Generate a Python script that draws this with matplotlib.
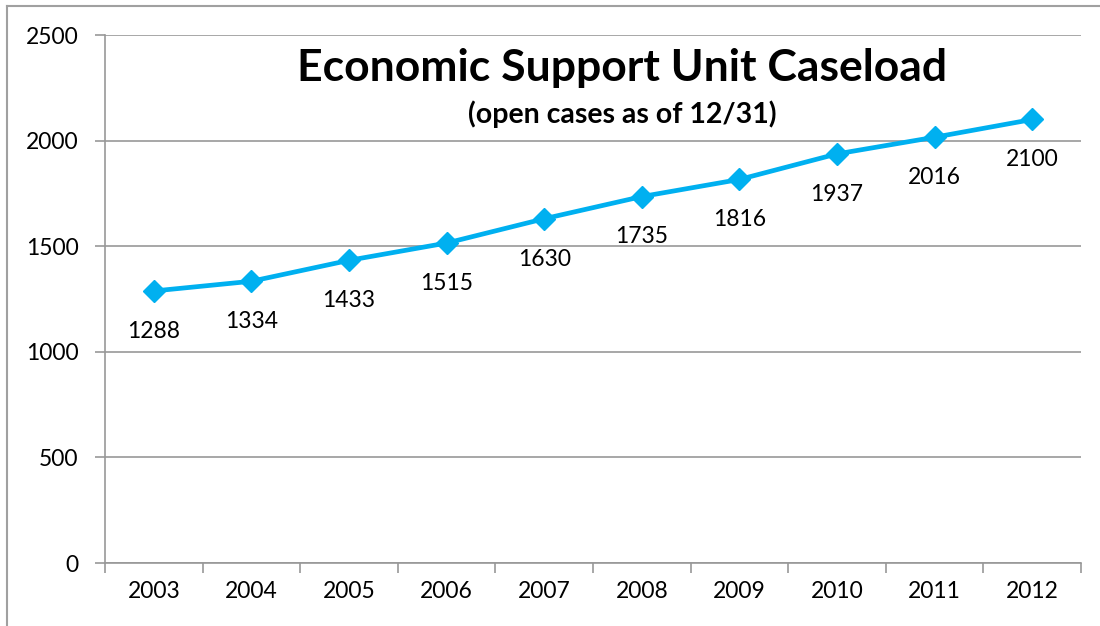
import matplotlib

matplotlib.use("Agg")

import matplotlib.pyplot as plt
from matplotlib.lines import Line2D

YEARS = ["2003", "2004", "2005", "2006", "2007", "2008", "2009", "2010", "2011", "2012"]
CASELOAD = [1288, 1334, 1433, 1515, 1630, 1735, 1816, 1937, 2016, 2100]
Y_TICKS = [0, 500, 1000, 1500, 2000, 2500]

LINE_COLOR = "#00B0F0"
AXIS_COLOR = "#989898"
FONT = ["Lato", "DejaVu Sans"]

plt.rcParams["font.family"] = FONT

fig = plt.figure(figsize=(11, 6.26), dpi=100)
ax = fig.add_axes([105 / 1100, 1 - 563 / 626, (1081 - 105) / 1100, (563 - 35) / 626])

x = list(range(len(YEARS)))
ax.plot(x, CASELOAD, color=LINE_COLOR, linewidth=3.4, marker="D", markersize=11,
        clip_on=False, zorder=3)

for xi, val in zip(x, CASELOAD):
    ax.annotate(str(val), (xi, val), xytext=(0, -29), textcoords="offset points",
                ha="center", va="center", fontsize=16.5, color="black")

ax.set_xlim(-0.5, len(YEARS) - 0.5)
ax.set_ylim(0, 2500)
ax.set_yticks(Y_TICKS)
ax.set_yticklabels([str(t) for t in Y_TICKS], fontsize=16.5)
ax.set_xticks(x)
ax.set_xticklabels(YEARS, fontsize=16.5)
ax.tick_params(axis="x", length=0, pad=13)
ax.set_xticks([i - 0.5 for i in range(len(YEARS) + 1)], minor=True)
ax.tick_params(axis="x", which="minor", length=7, color=AXIS_COLOR, width=1.2)
ax.tick_params(axis="y", length=7, color=AXIS_COLOR, width=1.2, pad=12)

ax.grid(axis="y", color=AXIS_COLOR, linewidth=1.2)
ax.set_axisbelow(True)
for side in ("top", "right"):
    ax.spines[side].set_visible(False)
for side in ("left", "bottom"):
    ax.spines[side].set_color(AXIS_COLOR)
    ax.spines[side].set_linewidth(1.2)

fig.text(622 / 1100, 1 - 68 / 626, "Economic Support Unit Caseload", ha="center",
         va="center", fontsize=32, fontweight="bold")
fig.text(622 / 1100, 1 - 114 / 626, "(open cases as of 12/31)", ha="center",
         va="center", fontsize=20.5, fontweight="bold")

# outer chart frame (left and top edges visible)
fig.add_artist(Line2D([7 / 1100, 7 / 1100], [0, 1 - 6 / 626], color="#a0a0a0",
                      linewidth=1.5, transform=fig.transFigure))
fig.add_artist(Line2D([7 / 1100, 1], [1 - 6 / 626, 1 - 6 / 626], color="#a0a0a0",
                      linewidth=1.5, transform=fig.transFigure))

fig.savefig("out.png", dpi=100)
